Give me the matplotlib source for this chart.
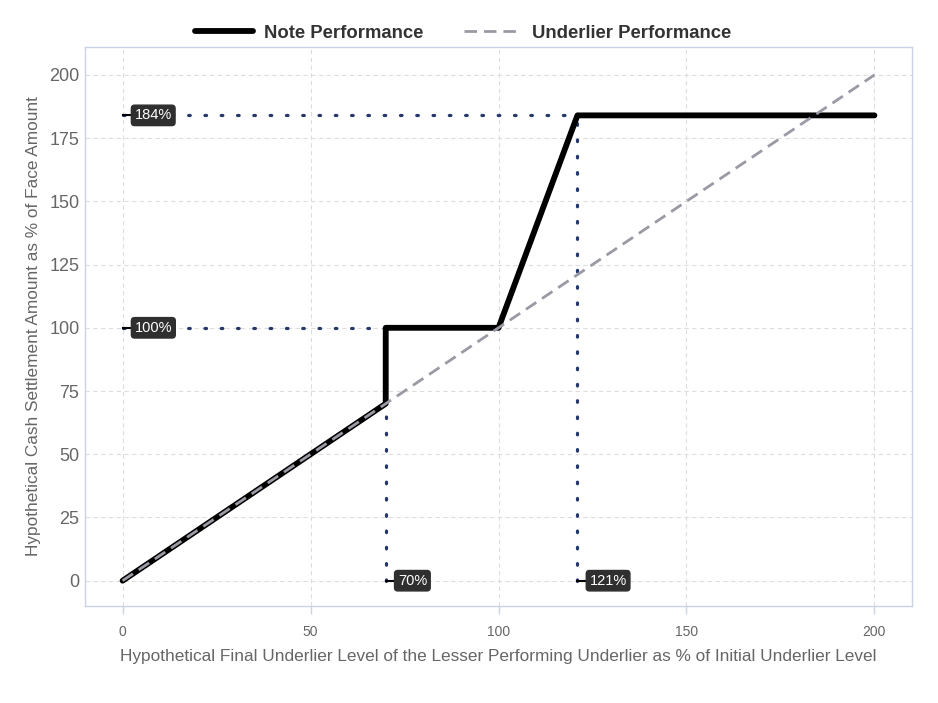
import matplotlib
matplotlib.use("Agg")
import matplotlib.pyplot as plt

plt.rcParams["font.family"] = ["Liberation Sans", "DejaVu Sans"]

# ── data ─────────────────────────────────────────────────────────────────────
note_x = [0, 70, 70, 100, 121, 200]
note_y = [0, 70, 100, 100, 184, 184]
under_x = [0, 200]
under_y = [0, 200]

# reference levels: (x where note hits, y level)
h_levels = [(121, 184), (70, 100)]
v_levels = [(70, 100), (121, 184)]
y_labels = ["184%", "100%"]
x_labels = ["70%", "121%"]

xticks = [0, 50, 100, 150, 200]
yticks = [0, 25, 50, 75, 100, 125, 150, 175, 200]

TXT = "#666666"
DOT = "#26386a"

fig = plt.figure(figsize=(9.38, 7.03), dpi=100, facecolor="white")
ax = fig.add_axes([0.0906, 0.138, 0.8817, 0.795])

ax.grid(True, linestyle=(0, (4, 3)), color="#dddddd", lw=0.8)
ax.set_axisbelow(True)
for s in ax.spines.values():
    s.set_color("#c8d4e4")
    s.set_linewidth(1.0)

# dotted reference lines
for (xe, yl) in h_levels:
    ax.plot([0, xe], [yl, yl], ls=(0, (0.5, 4.6)), color=DOT, lw=2.3,
            dash_capstyle="round", zorder=2)
for (xl, yt) in v_levels:
    ax.plot([xl, xl], [0, yt], ls=(0, (0.5, 4.6)), color=DOT, lw=2.3,
            dash_capstyle="round", zorder=2)

ax.plot(note_x, note_y, color="black", lw=4.2, solid_capstyle="round",
        label="Note Performance", zorder=3)
ax.plot(under_x, under_y, color="#9a9aa4", lw=2.0, ls=(0, (4.5, 2.5)),
        label="Underlier Performance", zorder=4)

box = dict(boxstyle="round,pad=0.22", fc="#2f2f2f", ec="#2f2f2f")
for (xe, yl), lab in zip(h_levels, y_labels):
    ax.plot([0, 2.5], [yl, yl], color="black", lw=1.5, zorder=5)
    ax.text(3.2, yl, lab, color="white", fontsize=10.5, va="center", ha="left",
            bbox=box, zorder=6)
for (xl, yt), lab in zip(v_levels, x_labels):
    ax.plot([xl, xl + 2.5], [0, 0], color="black", lw=1.5, zorder=5)
    ax.text(xl + 3.2, 0, lab, color="white", fontsize=10.5, va="center", ha="left",
            bbox=box, zorder=6)

ax.set_xlim(-10, 210)
ax.set_ylim(-10, 211)
ax.set_xticks(xticks)
ax.set_yticks(yticks)
ax.tick_params(axis="x", labelsize=10, colors="#c8d4e4", labelcolor=TXT,
               length=6, width=1.0, pad=8)
ax.tick_params(axis="y", labelsize=13, colors=TXT, length=0, pad=4)
ax.set_xlabel("Hypothetical Final Underlier Level of the Lesser Performing Underlier as % of Initial Underlier Level",
              fontsize=12.4, color=TXT, labelpad=7)
ax.set_ylabel("Hypothetical Cash Settlement Amount as % of Face Amount",
              fontsize=12.4, color=TXT, labelpad=6)

leg = fig.legend(loc="center", bbox_to_anchor=(0.494, 0.953), ncol=2, frameon=False,
                 prop={"weight": "bold", "size": 13.3}, handlelength=3.1,
                 handletextpad=0.6, columnspacing=2.2)
for t in leg.get_texts():
    t.set_color("#333333")

fig.savefig("out.png", dpi=100, facecolor="white")
